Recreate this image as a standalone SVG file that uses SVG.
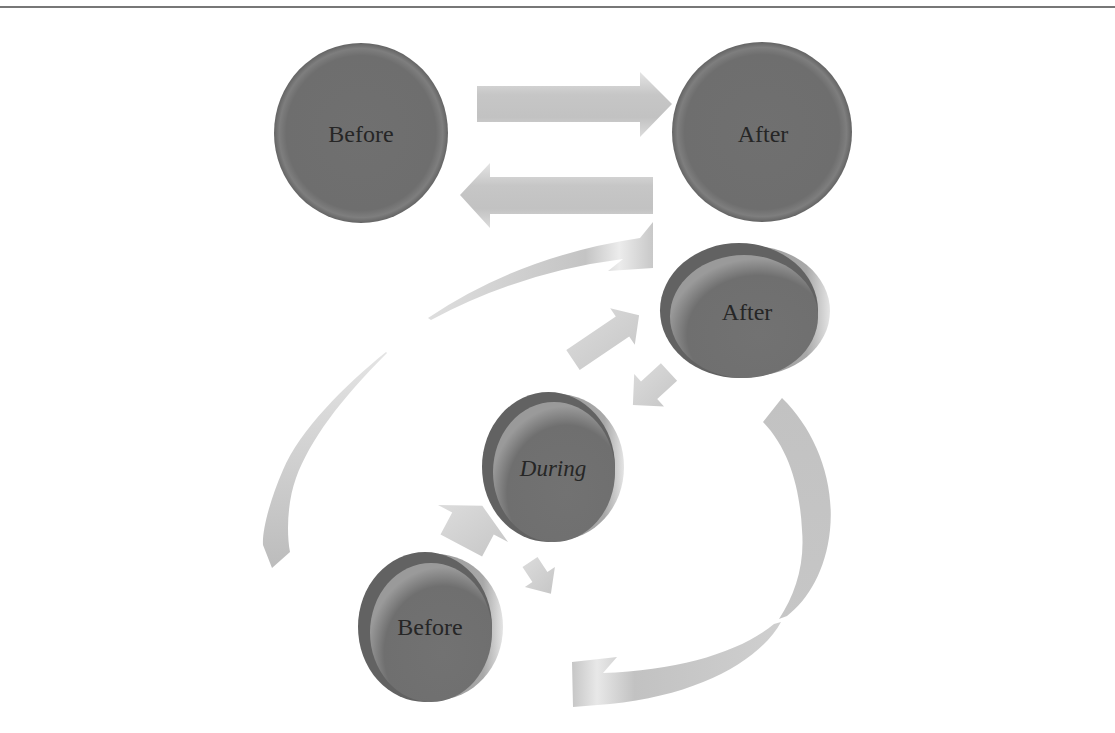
<svg xmlns="http://www.w3.org/2000/svg" width="1115" height="733" viewBox="0 0 1115 733">
<defs>
<style>
.lbl{font-family:"Liberation Serif","Times New Roman",serif;font-size:24px;fill:#262626;text-anchor:middle}
.it{font-style:italic;font-size:23px}
.arr{fill:url(#arrV)}
.sm{fill:url(#smG)}
.rim{fill:url(#rimG)}
.outer{fill:#626262}
.inner{fill:url(#innerG)}
.flat{fill:url(#flatG)}
</style>
<linearGradient id="arrV" x1="0" y1="0" x2="0" y2="1">
<stop offset="0" stop-color="#e4e4e4"/>
<stop offset="0.35" stop-color="#c6c6c6"/>
<stop offset="0.7" stop-color="#c2c2c2"/>
<stop offset="1" stop-color="#dcdcdc"/>
</linearGradient>
<linearGradient id="smG" x1="0" y1="0" x2="1" y2="1">
<stop offset="0" stop-color="#dcdcdc"/>
<stop offset="1" stop-color="#c6c6c6"/>
</linearGradient>
<linearGradient id="arcTop" x1="0" y1="0" x2="1" y2="0">
<stop offset="0" stop-color="#dedede"/>
<stop offset="0.7" stop-color="#c4c4c4"/>
<stop offset="0.85" stop-color="#ececec"/>
<stop offset="1" stop-color="#c8c8c8"/>
</linearGradient>
<linearGradient id="arcLeft" x1="0" y1="0" x2="0" y2="1">
<stop offset="0" stop-color="#e4e4e4"/>
<stop offset="1" stop-color="#bcbcbc"/>
</linearGradient>
<linearGradient id="arcRight" x1="0" y1="0" x2="0" y2="1">
<stop offset="0" stop-color="#c2c2c2"/>
<stop offset="1" stop-color="#c6c6c6"/>
</linearGradient>
<linearGradient id="arcBottom" x1="1" y1="0" x2="0" y2="0">
<stop offset="0" stop-color="#cfcfcf"/>
<stop offset="0.7" stop-color="#c2c2c2"/>
<stop offset="0.88" stop-color="#e8e8e8"/>
<stop offset="1" stop-color="#c6c6c6"/>
</linearGradient>
<linearGradient id="rimG" x1="0" y1="0" x2="1" y2="0">
<stop offset="0" stop-color="#8a8a8a"/>
<stop offset="0.85" stop-color="#a8a8a8"/>
<stop offset="1" stop-color="#e4e4e4"/>
</linearGradient>
<radialGradient id="innerG" cx="0.6" cy="0.65" r="0.62" fx="0.6" fy="0.65">
<stop offset="0" stop-color="#727272"/>
<stop offset="0.78" stop-color="#6f6f6f"/>
<stop offset="1" stop-color="#9a9a9a"/>
</radialGradient>
<radialGradient id="flatG" cx="0.5" cy="0.5" r="0.5">
<stop offset="0" stop-color="#707070"/>
<stop offset="0.86" stop-color="#6e6e6e"/>
<stop offset="0.94" stop-color="#7e7e7e"/>
<stop offset="1" stop-color="#646464"/>
</radialGradient>
</defs>
<rect width="1115" height="733" fill="#ffffff"/>
<line x1="0" y1="7" x2="1115" y2="7" stroke="#4a4a4a" stroke-width="1.5"/>

<g id="connectors">
<polygon class="arr" points="477,86 640,86 640,72 672,104 640,137 640,122 477,122"/>
<polygon class="arr" points="653,177 490,177 490,163 460,195 490,228 490,214 653,214"/>
<path fill="url(#arcTop)" d="M428,318 Q520,256 640,238 L653,222 L653,268 L608,271 L623,259 Q520,272 431,320 Z"/>
<path fill="url(#arcLeft)" d="M386,352 C345,385 300,430 283,470 C270,500 262,530 263,545 L272,568 L290,552 C286,530 288,500 296,478 C310,440 340,400 387,353 Z"/>
<path fill="url(#arcRight)" d="M782,398 C815,430 835,480 830,530 C826,570 808,600 787,616 L779,619 C795,595 805,565 802,530 C800,490 790,450 763,422 Z"/>
<path fill="url(#arcBottom)" d="M781,622 C760,660 700,695 610,704 L573,707 L572,662 L617,657 L603,673 C680,670 740,652 774,624 Z"/>
<polygon class="sm" points="566.3,350.1 615.8,316.6 610.2,308.3 639.1,315.3 634.8,344.7 629.2,336.4 579.7,369.9"/>
<polygon class="sm" points="660.9,363.2 641.0,381.5 634.2,374.1 632.9,405.1 664.0,406.5 657.2,399.1 677.1,380.8"/>
<polygon class="sm" points="440.5,534.6 452.2,512.5 438.0,505.0 482.3,505.8 508.0,542.0 493.8,534.5 482.1,556.6"/>
<polygon class="sm" points="537.5,557.1 547.4,572.1 554.9,567.1 550.9,593.8 524.9,586.9 532.4,581.9 522.5,566.9"/>
</g>

<g id="node-before-top">
<ellipse class="flat" cx="361" cy="133" rx="87" ry="90"/>
<text class="lbl" x="361" y="142">Before</text>
</g>
<g id="node-after-top">
<ellipse class="flat" cx="762" cy="132" rx="90" ry="90"/>
<text class="lbl" x="763" y="142">After</text>
</g>
<g id="node-after-mid">
<ellipse class="rim" cx="751" cy="311" rx="79" ry="65"/>
<ellipse class="outer" cx="739" cy="310.5" rx="79" ry="67.5"/>
<ellipse class="inner" cx="744" cy="316.5" rx="74" ry="61.5"/>
<text class="lbl" x="747" y="320">After</text>
</g>
<g id="node-during">
<ellipse class="rim" cx="558" cy="467" rx="66" ry="73"/>
<ellipse class="outer" cx="548.5" cy="467" rx="66.5" ry="75"/>
<ellipse class="inner" cx="554" cy="472" rx="61" ry="70"/>
<text class="lbl it" x="553" y="476">During</text>
</g>
<g id="node-before-bottom">
<ellipse class="rim" cx="436" cy="627" rx="67" ry="73"/>
<ellipse class="outer" cx="425" cy="627" rx="67" ry="75"/>
<ellipse class="inner" cx="431" cy="632.5" rx="61" ry="69.5"/>
<text class="lbl" x="430" y="635">Before</text>
</g>
</svg>
